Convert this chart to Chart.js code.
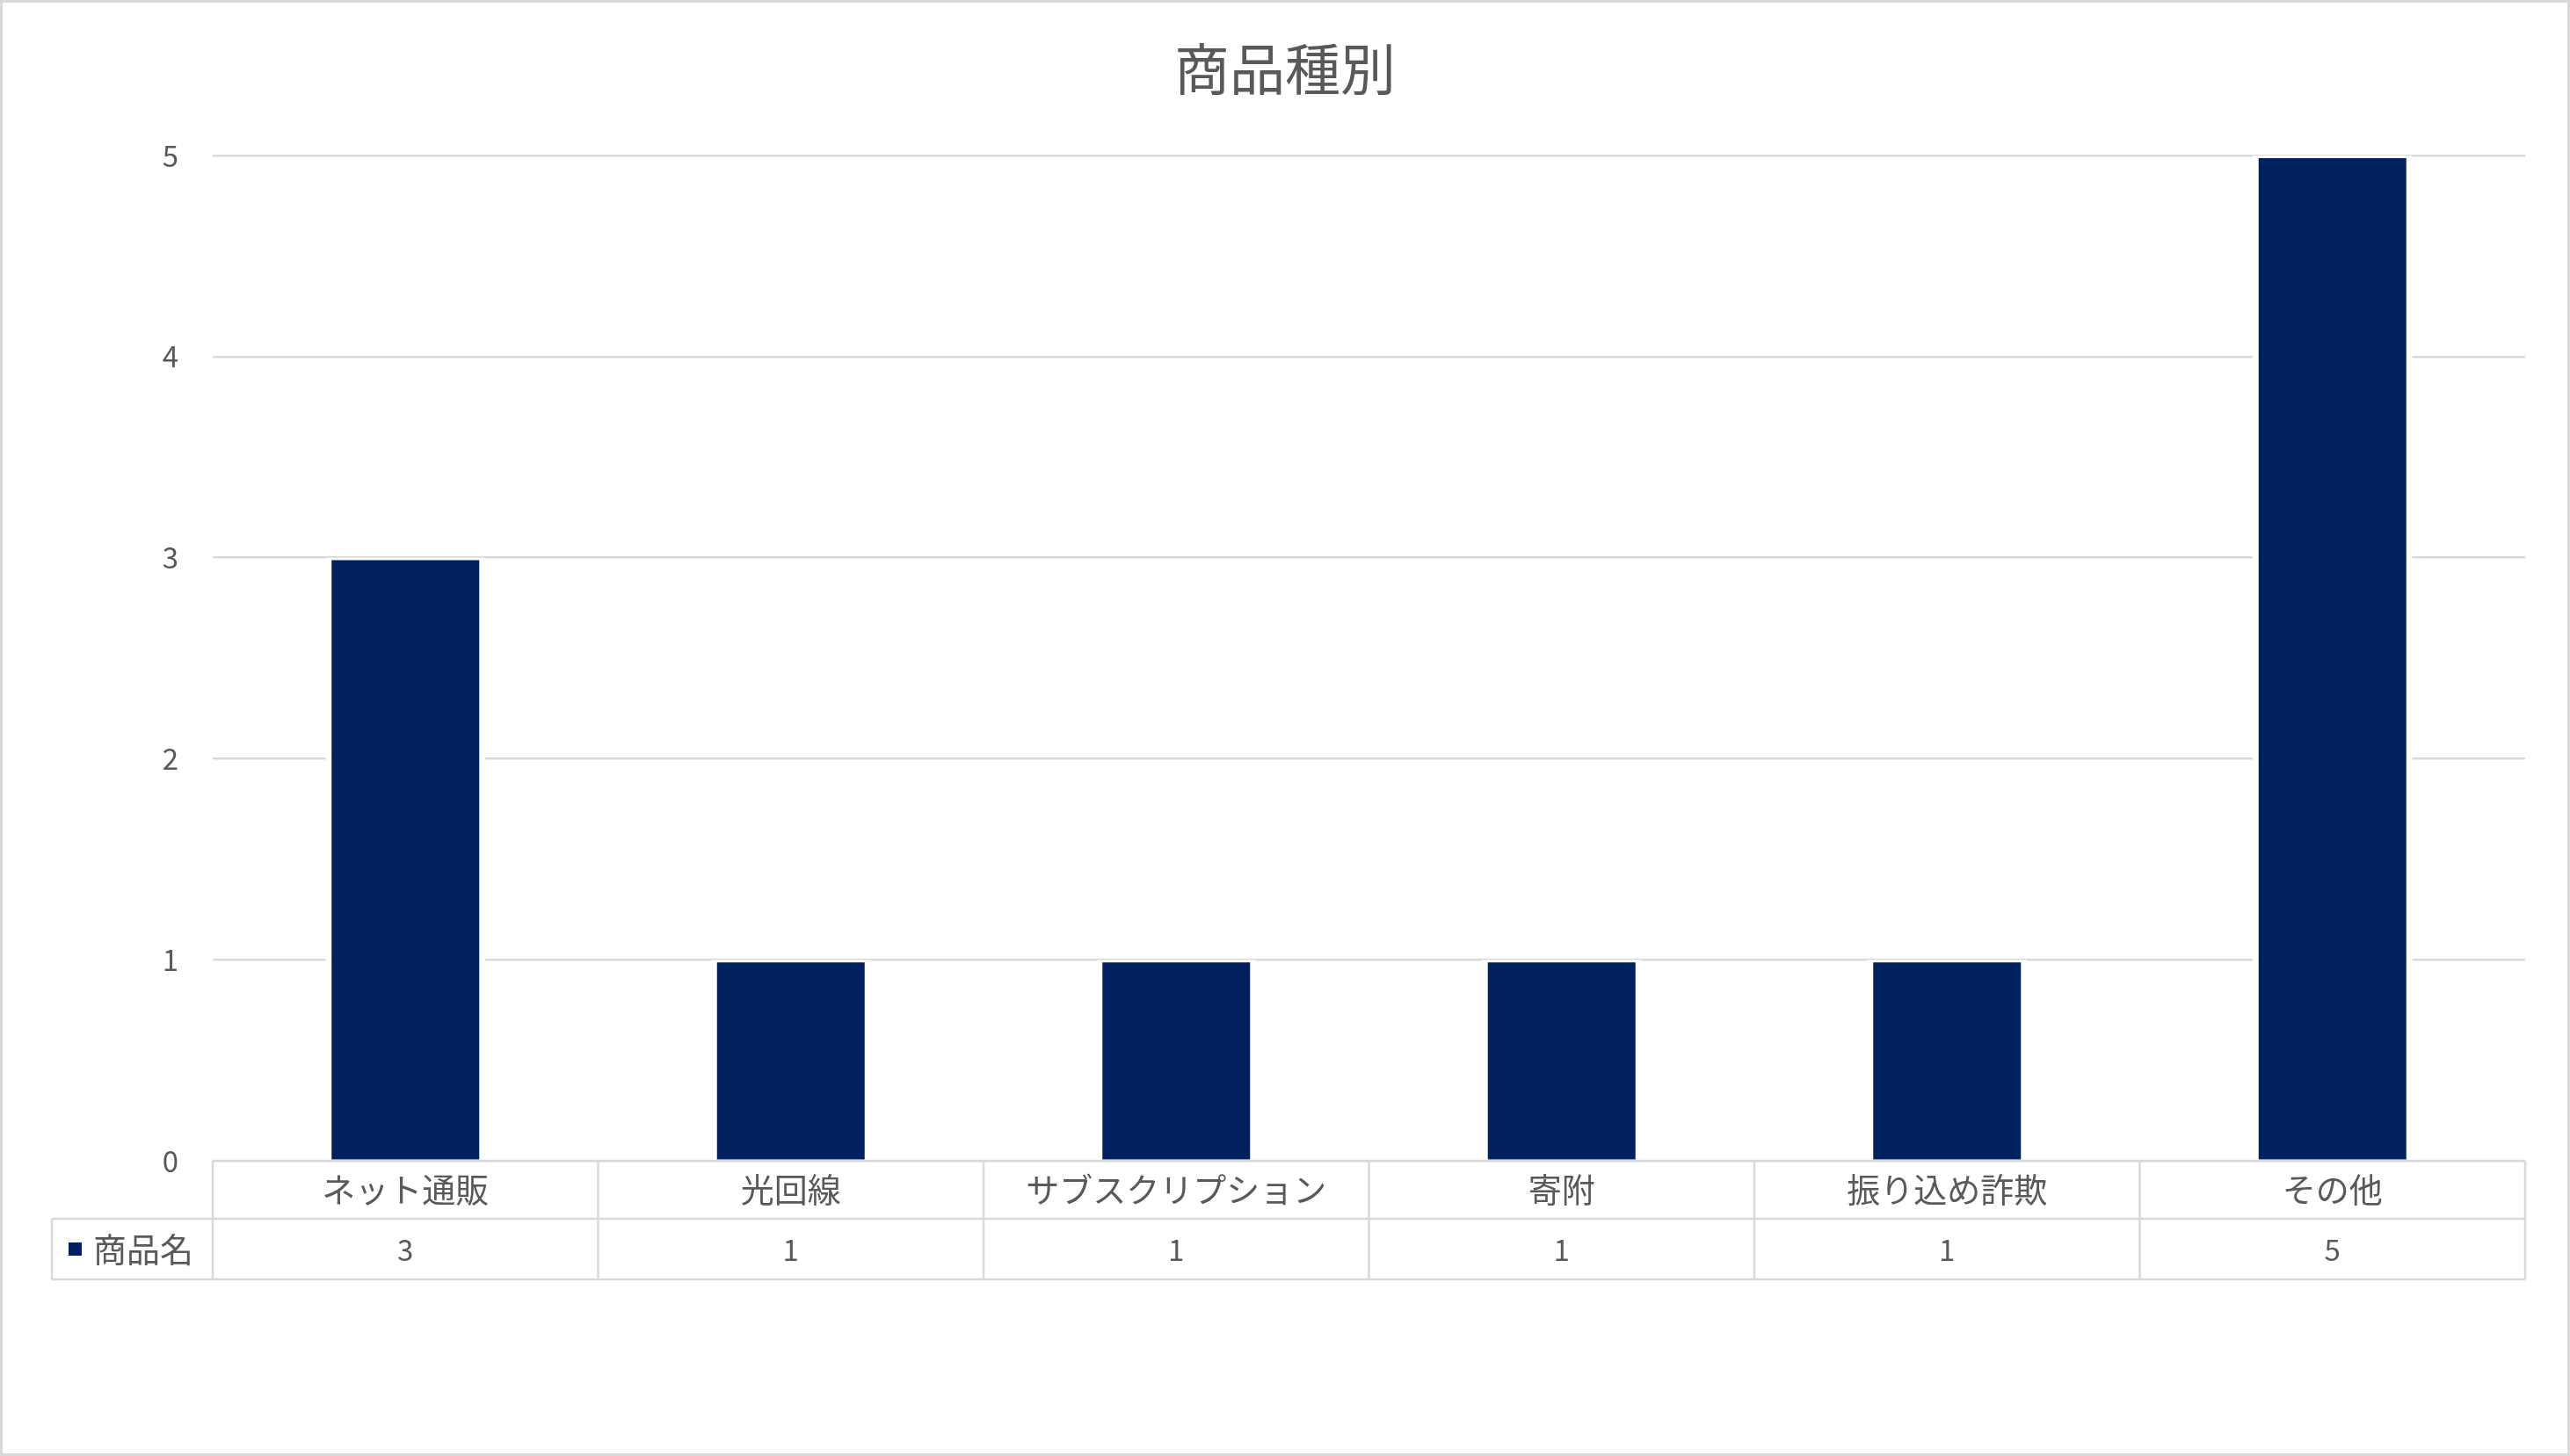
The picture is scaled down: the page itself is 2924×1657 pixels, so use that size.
<!DOCTYPE html>
<html>
<head>
<meta charset="utf-8">
<script src="https://cdn.jsdelivr.net/npm/chart.js@4"></script>
<style>
html,body{margin:0;padding:0;background:#fff;overflow:hidden;}
#wrap{width:2924px;height:1657px;position:relative;}
canvas{display:block;}
</style>
</head>
<body>
<div id="wrap"><canvas id="c" width="2924" height="1657"></canvas></div>
<script>
const chartTitle = '商品種別';
const categories = ['ネット通販', '光回線', 'サブスクリプション', '寄附', '振り込め詐欺', 'その他'];
const seriesName = '商品名';
const seriesValues = [3, 1, 1, 1, 1, 5];
const yMin = 0, yMax = 5, yStep = 1;

const FONT = "'Noto Sans CJK JP', 'Noto Sans', sans-serif";
const TEXT = '#595959';
const LINE = '#d9d9d9';
const BAR = '#002060';

const decor = {
  id: 'decor',
  beforeDraw(chart) {
    const ctx = chart.ctx;
    ctx.save();
    ctx.fillStyle = '#fff';
    ctx.fillRect(0, 0, chart.width, chart.height);
    ctx.restore();
  },
  afterDraw(chart) {
    const ctx = chart.ctx;
    const x = chart.scales.x, y = chart.scales.y;
    const area = chart.chartArea;
    const top = y.getPixelForValue(yMin);
    const row1 = top + 66, row2 = row1 + 69;
    const leftCol = 59;
    const n = categories.length;
    const half = (x.getPixelForValue(1) - x.getPixelForValue(0)) / 2;
    ctx.save();
    ctx.strokeStyle = LINE;
    ctx.lineWidth = 2.5;
    ctx.beginPath();
    ctx.moveTo(area.left, top); ctx.lineTo(area.right, top);
    ctx.moveTo(leftCol, row1); ctx.lineTo(area.right, row1);
    ctx.moveTo(leftCol, row2); ctx.lineTo(area.right, row2);
    ctx.moveTo(leftCol, row1); ctx.lineTo(leftCol, row2);
    ctx.moveTo(area.left, top); ctx.lineTo(area.left, row2);
    for (let i = 0; i < n; i++) {
      const bx = x.getPixelForValue(i) + half;
      ctx.moveTo(bx, top); ctx.lineTo(bx, row2);
    }
    ctx.stroke();
    ctx.fillStyle = TEXT;
    ctx.textAlign = 'center';
    ctx.textBaseline = 'middle';
    for (let i = 0; i < n; i++) {
      const cx = x.getPixelForValue(i);
      ctx.font = '38px ' + FONT;
      ctx.fillText(categories[i], cx, (top + row1) / 2);
      ctx.font = '33px ' + FONT;
      ctx.fillText(String(seriesValues[i]), cx, (row1 + row2) / 2 + 1);
    }
    // legend key
    ctx.fillStyle = BAR;
    ctx.fillRect(78, (row1 + row2) / 2 - 7.5, 15, 15);
    ctx.fillStyle = TEXT;
    ctx.textAlign = 'left';
    ctx.font = '38px ' + FONT;
    ctx.fillText(seriesName, 106, (row1 + row2) / 2);
    // outer border
    ctx.strokeStyle = LINE;
    ctx.lineWidth = 3;
    ctx.strokeRect(1.5, 1.5, chart.width - 3, chart.height - 3);
    ctx.restore();
  }
};

new Chart(document.getElementById('c'), {
  type: 'bar',
  data: {
    labels: categories,
    datasets: [{
      label: seriesName,
      data: seriesValues,
      backgroundColor: BAR,
      borderColor: '#ffffff',
      borderWidth: {top: 3, left: 7, right: 7, bottom: 0},
      borderSkipped: 'bottom',
      barPercentage: 0.415,
      categoryPercentage: 1.0
    }]
  },
  options: {
    responsive: false,
    devicePixelRatio: 1,
    animation: false,
    layout: { padding: { left: 51, right: 51, top: 0, bottom: 336 } },
    plugins: {
      legend: { display: false },
      tooltip: { enabled: false },
      title: {
        display: true,
        text: chartTitle,
        color: TEXT,
        font: { family: FONT, size: 63, weight: 'normal', lineHeight: 1.2 },
        padding: { top: 40, bottom: 61.4 }
      }
    },
    scales: {
      x: { display: false },
      y: {
        min: yMin, max: yMax,
        border: { display: false },
        grid: { color: LINE, lineWidth: 2.5, drawTicks: false },
        ticks: { stepSize: yStep, color: TEXT, padding: 39, font: { family: FONT, size: 33 } },
        afterFit(s) { s.width = 191; }
      }
    }
  },
  plugins: [decor]
});
</script>
</body>
</html>
